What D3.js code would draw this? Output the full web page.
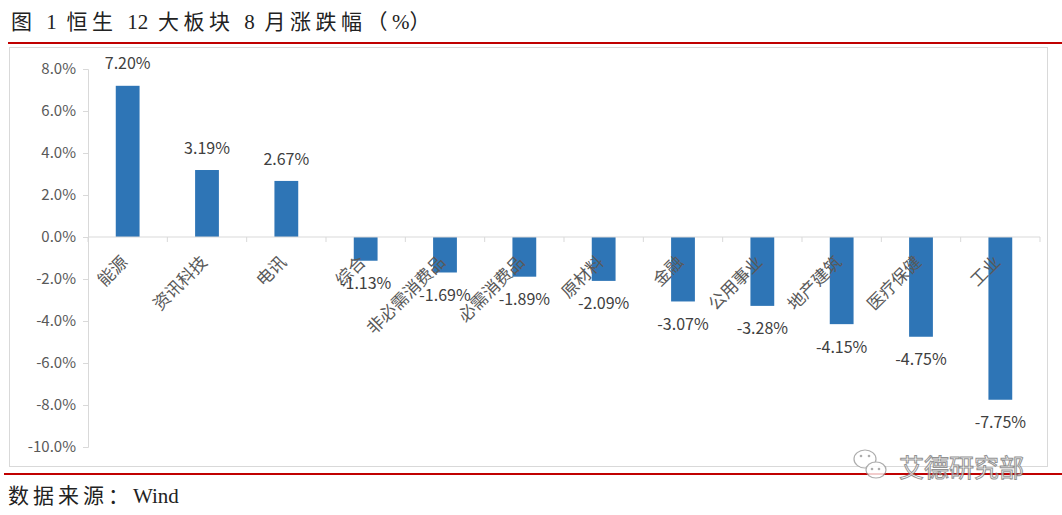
<!DOCTYPE html>
<html><head><meta charset="utf-8">
<script src="https://cdn.jsdelivr.net/npm/d3@7"></script>
<style>body{margin:0;background:#fff;} svg{display:block;}</style>
</head><body>
<svg id="c" width="1062" height="515"></svg>
<script>
const categories = ["能源","资讯科技","电讯","综合","非必需消费品","必需消费品","原材料","金融","公用事业","地产建筑","医疗保健","工业"];
const values = [7.20, 3.19, 2.67, -1.13, -1.69, -1.89, -2.09, -3.07, -3.28, -4.15, -4.75, -7.75];
const yTicks = [8, 6, 4, 2, 0, -2, -4, -6, -8, -10];
const title = "图 1 恒生 12 大板块 8 月涨跌幅（%）";
const source = "数据来源：Wind";

const svg = d3.select("#c");
const cjk = "'Noto Sans CJK SC','Noto Sans',sans-serif";
const serif = "'Liberation Serif','DejaVu Serif','Noto Sans CJK SC',serif";

// text with spacing only after wide (CJK) characters and spaces
function spacedText(sel, str, gap, spGap) {
  const chars = Array.from(str);
  chars.forEach((ch, i) => {
    const prev = i > 0 ? chars[i - 1] : null;
    const wide = prev && prev.charCodeAt(0) > 255;
    const sp = prev === " ";
    sel.append("tspan").attr("dx", i === 0 ? 0 : (wide ? gap : (sp ? spGap : 0))).text(ch === " " ? "\u00a0" : ch);
  });
}

// title
const tt = svg.append("text").attr("x", 11).attr("y", 29).attr("font-family", serif)
  .attr("font-size", 21).attr("fill", "#222");
spacedText(tt, title, 4.5, 4.5);
// red lines
svg.append("line").attr("x1", 8).attr("x2", 1062).attr("y1", 43).attr("y2", 43).attr("stroke", "#c00000").attr("stroke-width", 2);
svg.append("line").attr("x1", 4).attr("x2", 1062).attr("y1", 474).attr("y2", 474).attr("stroke", "#c00000").attr("stroke-width", 2);
// chart frame
svg.append("rect").attr("x", 9.5).attr("y", 47.5).attr("width", 1038).attr("height", 419).attr("fill", "none").attr("stroke", "#d9d9d9");

const y = d3.scaleLinear().domain([-10, 8]).range([447, 69]);
const x = d3.scaleBand().domain(categories).range([88, 1040]).paddingInner(0.7).paddingOuter(0.35);

// y axis
const yAxis = d3.axisLeft(y).tickValues(yTicks).tickSize(5).tickFormat(d => d.toFixed(1) + "%");
const ga = svg.append("g").attr("transform", "translate(88,0)").call(yAxis);
ga.select(".domain").attr("stroke", "#d9d9d9");
ga.selectAll(".tick line").attr("stroke", "#d9d9d9");
ga.selectAll(".tick text").attr("font-family", cjk).attr("font-size", 15).attr("fill", "#595959").attr("x", -12);

// bars
svg.append("g").selectAll("rect").data(values).join("rect")
  .attr("x", (d, i) => x(categories[i]))
  .attr("width", x.bandwidth())
  .attr("y", d => y(Math.max(0, d)))
  .attr("height", d => Math.abs(y(d) - y(0)))
  .attr("fill", "#2e75b6");

// x axis at zero
const gx = svg.append("g").attr("transform", `translate(0,${y(0)})`);
gx.append("line").attr("x1", 88).attr("x2", 1040).attr("stroke", "#d9d9d9");
const bounds = d3.range(categories.length + 1).map(i => 88 + i * x.step());
gx.selectAll(".bt").data(bounds).join("line").attr("class", "bt")
  .attr("x1", d => d).attr("x2", d => d).attr("y1", 0).attr("y2", 5).attr("stroke", "#d9d9d9");

// category labels rotated
svg.append("g").selectAll("text").data(categories).join("text")
  .attr("transform", d => `translate(${x(d) + x.bandwidth() / 2 - 3},${y(0) + 22}) rotate(-45)`)
  .attr("text-anchor", "end").attr("dy", "0.35em")
  .attr("font-family", cjk).attr("font-size", 17).attr("fill", "#595959").text(d => d);

// data labels
svg.append("g").selectAll("text").data(values).join("text")
  .attr("x", (d, i) => x(categories[i]) + x.bandwidth() / 2)
  .attr("y", d => d >= 0 ? y(d) - 22 : y(d) + 23)
  .attr("dy", "0.35em").attr("text-anchor", "middle")
  .attr("font-family", cjk).attr("font-size", 16).attr("fill", "#404040")
  .text(d => d.toFixed(2) + "%");

// watermark
const wm = svg.append("g").attr("opacity", 0.8);
wm.append("ellipse").attr("cx", 865).attr("cy", 459).attr("rx", 11).attr("ry", 9).attr("fill", "#fff").attr("stroke", "#999").attr("stroke-width", 1.2);
wm.append("ellipse").attr("cx", 876).attr("cy", 470).attr("rx", 10).attr("ry", 8).attr("fill", "#fff").attr("stroke", "#999").attr("stroke-width", 1.2);
[[861,456],[869,456],[872,469],[879,469]].forEach(p => wm.append("circle").attr("cx", p[0]).attr("cy", p[1]).attr("r", 1.3).attr("fill", "#999"));
wm.append("text").attr("x", 899).attr("y", 477).attr("font-family", cjk).attr("font-size", 25)
  .attr("fill", "#fff").attr("stroke", "#777").attr("stroke-width", 1).text("艾德研究部");

// source
const st = svg.append("text").attr("x", 8).attr("y", 503).attr("font-family", serif)
  .attr("font-size", 21).attr("fill", "#222");
spacedText(st, source, 4, 0);
</script>
</body></html>
